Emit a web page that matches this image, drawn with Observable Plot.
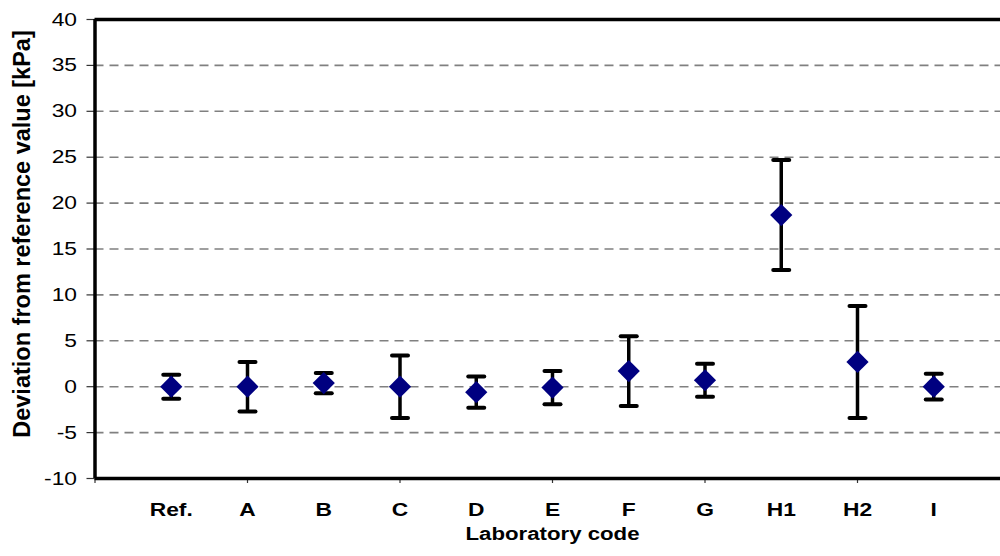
<!DOCTYPE html>
<html><head><meta charset="utf-8">
<script src="https://cdn.jsdelivr.net/npm/d3@7"></script>
<script src="https://cdn.jsdelivr.net/npm/@observablehq/plot@0.6"></script>
<style>
html,body{margin:0;padding:0;background:#fff;overflow:hidden;}
#chart{width:1000px;height:556px;overflow:hidden;}
#chart svg{max-width:none !important;}
</style></head><body><div id="chart"></div>
<script>
// ---- data ----
const categories = ["Ref.", "A", "B", "C", "D", "E", "F", "G", "H1", "H2", "I"];
const deviation   = [0, 0, 0.4, 0, -0.6, -0.1, 1.7, 0.7, 18.7, 2.7, 0];
const uncertainty = [1.3, 2.7, 1.1, 3.4, 1.7, 1.8, 3.8, 1.8, 6.0, 6.1, 1.4];
const yTickValues = [-10, -5, 0, 5, 10, 15, 20, 25, 30, 35, 40];
const gridValues  = [-5, 0, 5, 10, 15, 20, 25, 30, 35];
const xMajorTicks = [0, 2, 4, 6, 8, 10, 12];
const xTitle = "Laboratory code";
const yTitle = "Deviation from reference value [kPa]";

const rows = categories.map((c, i) => ({
  pos: i + 1, label: c, dev: deviation[i],
  lo: deviation[i] - uncertainty[i], hi: deviation[i] + uncertainty[i]
}));

const hline = {draw(ctx, size) { const h = Math.sqrt(size / Math.PI); ctx.moveTo(-h, 0); ctx.lineTo(h, 0); }};
const font = '"Liberation Sans", Arial, Helvetica, sans-serif';

const svg = Plot.plot({
  width: 1020, height: 556,
  marginLeft: 94.5, marginRight: 10.5, marginTop: 19, marginBottom: 78,
  style: {fontFamily: font, background: "#fff", color: "#000"},
  x: {domain: [0, 12]},
  y: {domain: [-10, 40]},
  marks: [
    Plot.ruleY(gridValues, {stroke: "#808080", strokeWidth: 1.6, strokeDasharray: "9,6"}),
    Plot.axisY(yTickValues, {tickSize: 8, tickPadding: 10, fontSize: 19, label: null, tickFormat: d => String(d), stroke: "#333", strokeWidth: 1.2}),
    Plot.axisX(xMajorTicks, {tickSize: 5, tickFormat: () => "", label: null, stroke: "#333", strokeWidth: 1.2}),
    Plot.axisX(rows.map(d => d.pos), {tickSize: 0, tickPadding: 24, tickFormat: p => categories[p - 1], fontSize: 19, fontWeight: "bold", label: null}),
    Plot.ruleY([yTickValues[0], yTickValues[yTickValues.length - 1]], {stroke: "#000", strokeWidth: 3.5}),
    Plot.ruleX([xMajorTicks[0]], {stroke: "#000", strokeWidth: 3.5}),
    Plot.ruleX(rows, {x: "pos", y1: "lo", y2: "hi", stroke: "#000", strokeWidth: 3.5}),
    Plot.dot(rows, {x: "pos", y: "lo", symbol: hline, r: 8, stroke: "#000", strokeWidth: 4, strokeLinecap: "round"}),
    Plot.dot(rows, {x: "pos", y: "hi", symbol: hline, r: 8, stroke: "#000", strokeWidth: 4, strokeLinecap: "round"}),
    Plot.dot(rows, {x: "pos", y: "dev", symbol: "diamond2", r: 10, fill: "#000080", stroke: "none"}),
    Plot.text([xTitle], {frameAnchor: "bottom", dy: 61, fontSize: 19, fontWeight: "bold", fill: "#000"}),
    Plot.text([yTitle], {frameAnchor: "left", textAnchor: "middle", rotate: -90, dx: -73, dy: -15, fontSize: 23.5, fontWeight: "bold", fill: "#000"})
  ]
});
svg.style.maxWidth = "none";
svg.style.width = "1020px";
svg.style.height = "556px";

// widen horizontal text glyphs like the reference rendering
function widen(t, sx) {
  const s = ` scale(${sx},1)`;
  const tr = t.getAttribute("transform");
  if (tr) t.setAttribute("transform", tr + s);
  else {
    const x = parseFloat(t.getAttribute("x")) || 0;
    t.removeAttribute("x");
    t.setAttribute("transform", `translate(${x},0)` + s);
  }
}
svg.querySelectorAll("text").forEach(t => {
  const txt = t.textContent;
  if (txt === yTitle) return;
  if (txt === xTitle) { widen(t, 1.17); return; }
  const g = t.closest("g[aria-label]");
  const lab = g ? g.getAttribute("aria-label") : "";
  if (/tick label/.test(lab)) widen(t, 1.2);
});
document.getElementById("chart").appendChild(svg);
</script>
</body></html>
